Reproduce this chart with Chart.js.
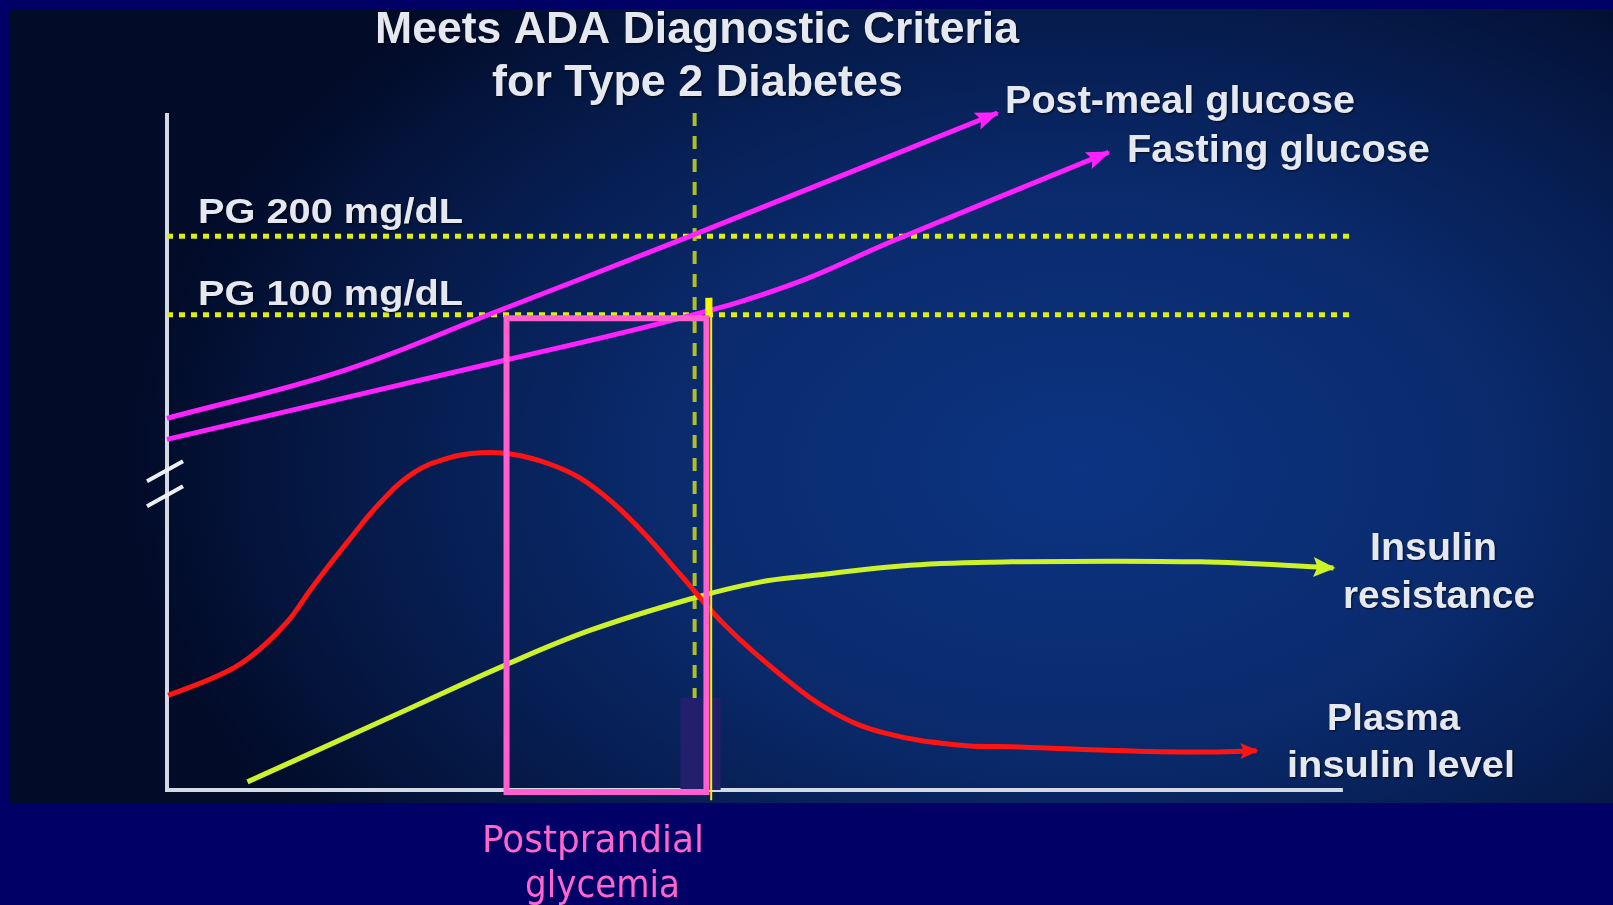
<!DOCTYPE html>
<html lang="en">

<head>
    <meta charset="UTF-8">
    <title>ADA Diagnostic Criteria - Glucose and Insulin</title>
    <script src="https://cdn.jsdelivr.net/npm/chart.js"></script>
    <style>
        html,
        body {
            margin: 0;
            padding: 0;
            background: #000066;
            overflow: hidden;
        }

        #panel {
            position: absolute;
            left: 9px;
            top: 9px;
            width: 1604px;
            height: 794px;
            background: radial-gradient(ellipse 950px 620px at 1070px 460px,
                    #0c3482 0%, #0a2a6c 45%, #051947 78%, #020b28 100%);
        }

        #chart-container {
            position: absolute;
            left: 0;
            top: 0;
            width: 1613px;
            height: 905px;
        }
    </style>
</head>

<body>
    <div id="panel"></div>
    <div id="chart-container">
        <canvas id="diabetesChart"></canvas>
    </div>

    <script>
        // time runs 0..100 along the x axis, level 0..100 up the y axis
        const postMealX = [0, 15.0, 27.6, 44.5, 70.2];
        const postMealY = [54.9, 62.0, 70.5, 82.0, 100];

        const fastingX = [0, 28.4, 43.4, 52.7, 61.5, 79.6];
        const fastingY = [51.8, 63.4, 69.7, 74.6, 81.2, 94.2];

        const insulinX = [0.1, 4.2, 7.0, 10.1, 12.3, 15.2, 18.0, 20.8, 23.7, 26.5, 29.2, 32.1, 34.9, 37.7, 40.6, 43.4, 47.3, 52.1, 56.4, 60.7, 67.1, 71.4, 78.9, 87.3, 92.1];
        const insulinY = [14.0, 16.8, 19.6, 24.7, 30.0, 36.5, 42.4, 46.8, 49.0, 49.8, 49.6, 48.3, 46.1, 42.4, 37.4, 31.8, 24.1, 16.7, 11.4, 8.4, 6.6, 6.4, 5.9, 5.6, 5.8];

        const resistanceX = [6.8, 19.7, 28.4, 35.8, 44.6, 50.1, 54.2, 62.8, 71.4, 87.3, 98.6];
        const resistanceY = [1.2, 11.4, 18.3, 23.6, 28.4, 30.7, 31.6, 33.2, 33.7, 33.7, 32.8];

        // PG 200 and PG 100 mg/dL levels
        const thresholdY = [81.8, 70.2];
        const thresholdLabels = ['PG 200 mg/dL', 'PG 100 mg/dL'];

        // diagnosis moment (vertical dashed line) and postprandial window box
        const diagnosisX = 44.6;
        const windowX = [28.7, 45.6];
        const windowY = [-0.3, 69.7];

        // small dark patch and yellow marker next to the box edge
        const patchX = [43.4, 46.8];
        const patchY = [-1.5, 13.6];
        const markerX = [45.8, 46.0];
        const markerY = [70.0, 72.7];

        const axisTop = 100;
        const axisRight = 99.4;
        const axisBreakY = [47.1, 43.4];

        const titleLines = ['Meets ADA Diagnostic Criteria', 'for Type 2 Diabetes'];
        const seriesLabels = ['Post-meal glucose', 'Fasting glucose', 'Insulin', 'resistance', 'Plasma', 'insulin level'];
        const boxLabels = ['Postprandial', 'glycemia'];

        function pts(xs, ys) {
            return xs.map((x, i) => ({ x: x, y: ys[i] }));
        }

        function rectPts(xs, ys) {
            var mid = (xs[0] + xs[1]) / 2;
            return [
                { x: mid, y: ys[0] }, { x: xs[0], y: ys[0] }, { x: xs[0], y: ys[1] },
                { x: xs[1], y: ys[1] }, { x: xs[1], y: ys[0] }, { x: mid, y: ys[0] }
            ];
        }

        const WHITE = '#e6e8ef';
        const SANS = '"Liberation Sans", Arial, sans-serif';

        // text drawn squeezed between left and right edges
        function fitText(ctx, text, left, right, baseline, font, color, shadow) {
            ctx.save();
            ctx.font = font;
            ctx.fillStyle = color;
            ctx.textBaseline = 'alphabetic';
            ctx.textAlign = 'left';
            if (shadow) {
                ctx.shadowColor = 'rgba(0,0,0,0.7)';
                ctx.shadowBlur = 2;
                ctx.shadowOffsetX = 1;
                ctx.shadowOffsetY = 1;
            }
            var w = ctx.measureText(text).width;
            ctx.translate(left, baseline);
            ctx.scale((right - left) / w, 1);
            ctx.fillText(text, 0, 0);
            ctx.restore();
        }

        const arrowPlugin = {
            id: 'arrows',
            afterDatasetsDraw(chart) {
                var ctx = chart.ctx;
                chart.data.datasets.forEach((ds, i) => {
                    if (!ds.arrow) return;
                    var pts = chart.getDatasetMeta(i).data;
                    var a = pts[pts.length - 1], b = pts[pts.length - 2];
                    var ang = Math.atan2(a.y - b.y, a.x - b.x);
                    var len = ds.arrow[0], half = ds.arrow[1];
                    ctx.save();
                    ctx.translate(a.x, a.y);
                    ctx.rotate(ang);
                    ctx.fillStyle = ds.borderColor;
                    ctx.beginPath();
                    ctx.moveTo(2, 0);
                    ctx.lineTo(-len, -half);
                    ctx.lineTo(-len * 0.8, 0);
                    ctx.lineTo(-len, half);
                    ctx.closePath();
                    ctx.fill();
                    ctx.restore();
                });
            }
        };

        const labelPlugin = {
            id: 'labels',
            afterDraw(chart) {
                var ctx = chart.ctx;
                var xs = chart.scales.x, ys = chart.scales.y;

                // axis break marks
                var ax = xs.getPixelForValue(0);
                ctx.save();
                ctx.strokeStyle = '#eef0f6';
                ctx.lineWidth = 4;
                axisBreakY.forEach(v => {
                    var py = ys.getPixelForValue(v);
                    ctx.beginPath();
                    ctx.moveTo(ax - 20, py + 10);
                    ctx.lineTo(ax + 16, py - 10);
                    ctx.stroke();
                });
                ctx.restore();

                var bold39 = 'bold 39px ' + SANS;
                fitText(ctx, titleLines[0], 375, 1019, 43, 'bold 44px ' + SANS, WHITE, true);
                fitText(ctx, titleLines[1], 492, 903, 96, 'bold 44px ' + SANS, WHITE, true);
                fitText(ctx, thresholdLabels[0], 198, 463, 223, 'bold 35px ' + SANS, WHITE, true);
                fitText(ctx, thresholdLabels[1], 198, 463, 305, 'bold 35px ' + SANS, WHITE, true);
                fitText(ctx, seriesLabels[0], 1005, 1355, 113, bold39, WHITE, true);
                fitText(ctx, seriesLabels[1], 1127, 1430, 162, bold39, WHITE, true);
                fitText(ctx, seriesLabels[2], 1370, 1497, 560, bold39, WHITE, true);
                fitText(ctx, seriesLabels[3], 1343, 1535, 608, bold39, WHITE, true);
                fitText(ctx, seriesLabels[4], 1327, 1460, 730, 'bold 36px ' + SANS, WHITE, true);
                fitText(ctx, seriesLabels[5], 1287, 1515, 777, 'bold 37px ' + SANS, WHITE, true);

                var pinkFont = '38px "DejaVu Sans", sans-serif';
                fitText(ctx, boxLabels[0], 482, 704, 852, pinkFont, '#ff66cc', false);
                fitText(ctx, boxLabels[1], 525, 680, 897, pinkFont, '#ff66cc', false);
            }
        };

        var ctx = document.getElementById('diabetesChart').getContext('2d');
        var diabetesChart = new Chart(ctx, {
            type: 'scatter',
            data: {
                datasets: [
                    {
                        // postprandial glycemia window
                        data: rectPts(windowX, windowY),
                        borderColor: '#ff5fcf',
                        borderWidth: 6,
                        borderJoinStyle: 'miter',
                        order: 0
                    },
                    {
                        data: pts([markerX[1], markerX[1]], [markerY[1], -1.5]),
                        borderColor: '#f2f200',
                        borderWidth: 2,
                        order: 1
                    },
                    {
                        data: pts([markerX[0], markerX[0]], markerY),
                        borderColor: '#f6f600',
                        borderWidth: 7,
                        order: 1
                    },
                    {
                        data: rectPts(patchX, patchY),
                        borderWidth: 0,
                        borderColor: 'rgba(0,0,0,0)',
                        backgroundColor: '#221f6c',
                        fill: 'shape',
                        order: 2
                    },
                    {
                        label: 'Plasma insulin level',
                        data: pts(insulinX, insulinY),
                        borderColor: '#ff1414',
                        borderWidth: 5,
                        tension: 0.4,
                        arrow: [16, 8],
                        order: 3
                    },
                    {
                        label: 'Insulin resistance',
                        data: pts(resistanceX, resistanceY),
                        borderColor: '#cdf22a',
                        borderWidth: 5,
                        tension: 0.4,
                        arrow: [20, 10],
                        order: 3
                    },
                    {
                        label: 'Post-meal glucose',
                        data: pts(postMealX, postMealY),
                        borderColor: '#ff22ff',
                        borderWidth: 5,
                        tension: 0.4,
                        arrow: [22, 9],
                        order: 4
                    },
                    {
                        label: 'Fasting glucose',
                        data: pts(fastingX, fastingY),
                        borderColor: '#ff22ff',
                        borderWidth: 5,
                        tension: 0.4,
                        arrow: [22, 9],
                        order: 4
                    },
                    {
                        data: pts([diagnosisX, diagnosisX], [axisTop, -1.5]),
                        borderColor: '#b0c020',
                        borderWidth: 4,
                        borderDash: [13, 10],
                        order: 5
                    },
                    {
                        data: pts([0, 100], [thresholdY[0], thresholdY[0]]),
                        borderColor: '#dfee10',
                        borderWidth: 5,
                        borderDash: [6, 6],
                        order: 6
                    },
                    {
                        data: pts([0, 100], [thresholdY[1], thresholdY[1]]),
                        borderColor: '#dfee10',
                        borderWidth: 5,
                        borderDash: [6, 6],
                        order: 6
                    },
                    {
                        // axes
                        data: pts([0, 0, axisRight], [axisTop, 0, 0]),
                        borderColor: '#d4d9e6',
                        borderWidth: 4,
                        borderJoinStyle: 'miter',
                        order: 7
                    }
                ]
            },
            options: {
                responsive: true,
                maintainAspectRatio: false,
                animation: false,
                events: [],
                showLine: true,
                clip: false,
                layout: {
                    padding: { left: 167, right: 263, top: 113, bottom: 115 }
                },
                elements: {
                    point: { radius: 0 },
                    line: { borderCapStyle: 'butt', fill: false }
                },
                plugins: {
                    legend: { display: false },
                    tooltip: { enabled: false }
                },
                scales: {
                    x: { type: 'linear', min: 0, max: 100, display: false },
                    y: { type: 'linear', min: 0, max: 100, display: false }
                }
            },
            plugins: [arrowPlugin, labelPlugin]
        });
    </script>
</body>

</html>
